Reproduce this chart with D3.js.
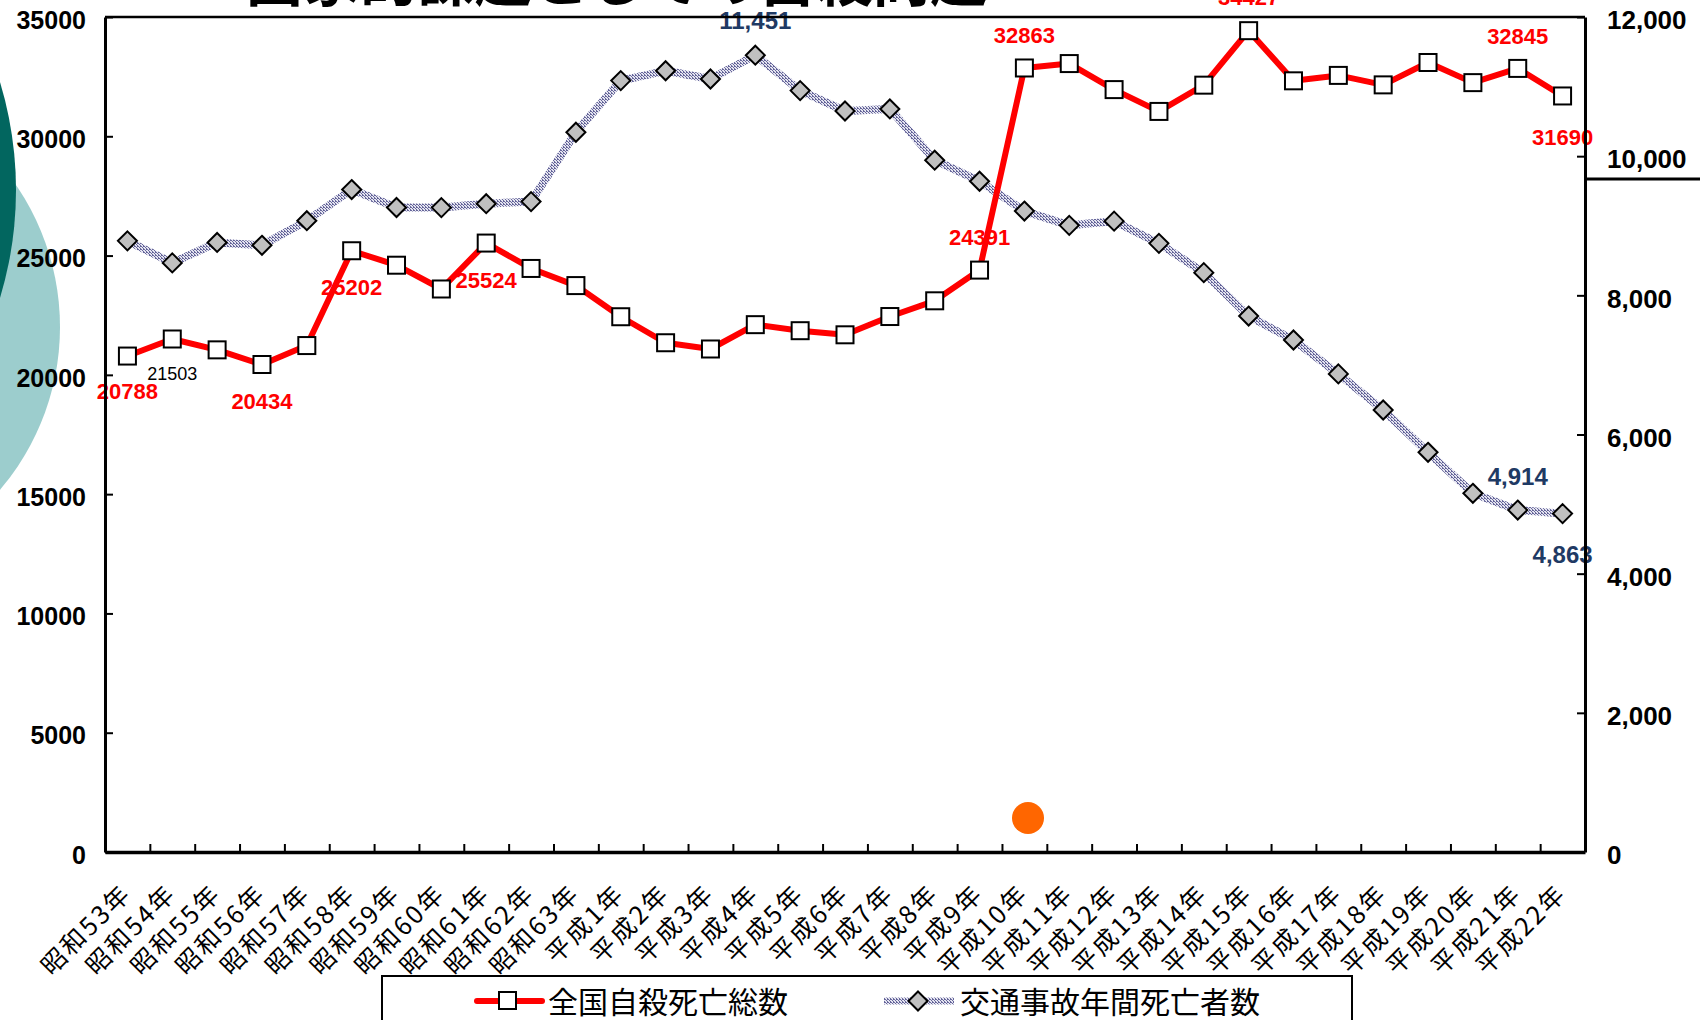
<!DOCTYPE html>
<html><head><meta charset="utf-8">
<script src="https://cdn.jsdelivr.net/npm/d3@7"></script>
<style>
html,body{margin:0;padding:0;background:#fff;overflow:hidden}
svg{display:block}
</style></head><body>
<svg id="chart" width="1700" height="1020"></svg>
<script>
// ---------------- data ----------------
const categories = [
  "昭和53年","昭和54年","昭和55年","昭和56年","昭和57年","昭和58年","昭和59年","昭和60年",
  "昭和61年","昭和62年","昭和63年","平成1年","平成2年","平成3年","平成4年","平成5年","平成6年",
  "平成7年","平成8年","平成9年","平成10年","平成11年","平成12年","平成13年","平成14年","平成15年",
  "平成16年","平成17年","平成18年","平成19年","平成20年","平成21年","平成22年"
];
const suicideTotals = [
  20788,21503,21048,20434,21228,25202,24596,23599,25524,24460,23742,
  22436,21346,21084,22104,21851,21679,22445,23104,24391,32863,33048,
  31957,31042,32143,34427,32325,32552,32155,33093,32249,32845,31690
];
const trafficDeaths = [
  8783,8466,8760,8719,9073,9520,9262,9261,9317,9347,10344,
  11086,11227,11109,11451,10942,10649,10679,9942,9640,9211,9006,
  9066,8747,8326,7702,7358,6871,6352,5744,5155,4914,4863
];
const leftTicks = [0,5000,10000,15000,20000,25000,30000,35000];
const rightTicks = [0,2000,4000,6000,8000,10000,12000];
const seriesNames = ["全国自殺死亡総数","交通事故年間死亡者数"];
const titleText = "国家的課題としての自殺問題";
const suicideLabelCats = ["昭和53年","昭和54年","昭和56年","昭和58年","昭和61年","平成9年","平成10年","平成15年","平成21年","平成22年"];
const trafficLabelCats = ["平成4年","平成21年","平成22年"];

// ---------------- layout / style ----------------
const L = 105, R = 1585, T = 17, B = 852;
const labelDy = { // vertical offset of value labels from their point
  s: {"昭和53年":43,"昭和54年":41,"昭和56年":44,"昭和58年":44,"昭和61年":45,"平成9年":-25,"平成10年":-25,"平成15年":-26,"平成21年":-24,"平成22年":49},
  t: {"平成4年":-26,"平成21年":-25,"平成22年":49}
};
const NUMFONT = "'Liberation Sans', Arial, sans-serif";
const CJKFONT = "'Noto Sans CJK JP', 'Noto Sans CJK SC', sans-serif";

const svg = d3.select("#chart");
const defs = svg.append("defs");
const pat = defs.append("pattern").attr("id","dots").attr("width",3).attr("height",3).attr("patternUnits","userSpaceOnUse");
pat.append("rect").attr("width",3).attr("height",3).attr("fill","#E4E4F0");
[[0,0],[1,1],[2,2],[2,0]].forEach(([a,b])=>pat.append("rect").attr("x",a).attr("y",b).attr("width",1).attr("height",1).attr("fill","#66669A"));

// decorative slide background
svg.append("circle").attr("cx",-191).attr("cy",327).attr("r",251).attr("fill","#9CCDCD");
svg.append("circle").attr("cx",-356).attr("cy",190).attr("r",372).attr("fill","#02665F");
svg.append("text").attr("x",246).attr("y",1).attr("font-family",CJKFONT).attr("font-weight","bold")
  .attr("font-size",57).attr("textLength",741).attr("lengthAdjust","spacing").attr("fill","#000").text(titleText);
svg.append("line").attr("x1",R).attr("x2",1700).attr("y1",179).attr("y2",179).attr("stroke","#000").attr("stroke-width",3);

// scales
const x = d3.scalePoint().domain(categories).range([L,R]).padding(0.5);
const xi = d3.scaleLinear().domain([0,categories.length]).range([L,R]);
const yL = d3.scaleLinear().domain([0,35000]).range([B,T]);
const yR = d3.scaleLinear().domain([0,12000]).range([B,T]);

// traffic series (drawn first, behind)
const lineT = d3.line().x((d,i)=>x(categories[i])).y(d=>yR(d));
svg.append("path").datum(trafficDeaths).attr("d",lineT).attr("fill","none")
  .attr("stroke","url(#dots)").attr("stroke-width",8).attr("stroke-linejoin","round");
const diamond = (cx,cy,r)=>`M${cx},${cy-r}L${cx+r},${cy}L${cx},${cy+r}L${cx-r},${cy}Z`;
svg.append("g").selectAll("path").data(trafficDeaths).join("path")
  .attr("d",(d,i)=>diamond(x(categories[i]),yR(d),9.5))
  .attr("fill","#C0C0C0").attr("stroke","#000").attr("stroke-width",2);

// suicide series
const lineS = d3.line().x((d,i)=>x(categories[i])).y(d=>yL(d));
svg.append("path").datum(suicideTotals).attr("d",lineS).attr("fill","none")
  .attr("stroke","#FF0000").attr("stroke-width",6).attr("stroke-linejoin","round");
svg.append("g").selectAll("rect").data(suicideTotals).join("rect")
  .attr("x",(d,i)=>x(categories[i])-8.5).attr("y",d=>yL(d)-8.5)
  .attr("width",17).attr("height",17).attr("fill","#fff").attr("stroke","#000").attr("stroke-width",2);

// value labels
svg.append("g").selectAll("text").data(suicideLabelCats).join("text")
  .attr("x",c=>x(c)).attr("y",c=>yL(suicideTotals[categories.indexOf(c)])+labelDy.s[c])
  .attr("text-anchor","middle").attr("font-family",NUMFONT)
  .attr("font-weight",c=>c==="昭和54年"?"normal":"bold")
  .attr("font-size",c=>c==="昭和54年"?18:22)
  .attr("fill",c=>c==="昭和54年"?"#000":"#FF0000")
  .text(c=>String(suicideTotals[categories.indexOf(c)]));
svg.append("g").selectAll("text").data(trafficLabelCats).join("text")
  .attr("x",c=>x(c)).attr("y",c=>yR(trafficDeaths[categories.indexOf(c)])+labelDy.t[c])
  .attr("text-anchor","middle").attr("font-family",NUMFONT).attr("font-weight","bold")
  .attr("font-size",24).attr("fill","#1F3A64")
  .text(c=>d3.format(",")(trafficDeaths[categories.indexOf(c)]));

// axes
const styleText = (g,size,weight)=>g.selectAll("text").attr("font-family",NUMFONT).attr("font-size",size)
  .attr("font-weight",weight).attr("fill","#000");
svg.append("g").attr("transform",`translate(${L},0)`)
  .call(d3.axisLeft(yL).tickValues(leftTicks).tickFormat(d3.format("d")).tickSizeInner(-8).tickSizeOuter(0).tickPadding(19))
  .call(g=>{g.select(".domain").attr("stroke-width",3);g.selectAll(".tick line").attr("stroke-width",2);
    styleText(g,25,"bold");g.selectAll("text").attr("dy","0.45em");});
svg.append("g").attr("transform",`translate(${R},0)`)
  .call(d3.axisRight(yR).tickValues(rightTicks).tickFormat(d3.format(",")).tickSizeInner(-8).tickSizeOuter(0).tickPadding(22))
  .call(g=>{g.select(".domain").attr("stroke-width",3);g.selectAll(".tick line").attr("stroke-width",2);
    styleText(g,26,"bold");g.selectAll("text").attr("dy","0.45em");});
svg.append("g").attr("transform",`translate(0,${B})`)
  .call(d3.axisBottom(xi).tickValues(d3.range(1,categories.length)).tickFormat("").tickSizeInner(-8).tickSizeOuter(0))
  .call(g=>{g.select(".domain").attr("stroke-width",3.5);g.selectAll(".tick line").attr("stroke-width",2);});
svg.append("g").attr("transform",`translate(0,${B})`)
  .call(d3.axisBottom(x).tickSize(0).tickPadding(0))
  .call(g=>{g.select(".domain").remove();
    g.selectAll("text").attr("y",0).attr("dy",0).attr("text-anchor","end")
      .attr("transform","translate(5,43) rotate(-45)").attr("letter-spacing","2.5px")
      .attr("font-family",CJKFONT).attr("font-size",25).attr("fill","#000");});
svg.append("line").attr("x1",L).attr("x2",R).attr("y1",yL.range()[1]).attr("y2",yL.range()[1])
  .attr("stroke","#000").attr("stroke-width",2.5);

// decorative orange dot
svg.append("circle").attr("cx",1028).attr("cy",818).attr("r",16).attr("fill","#FF6600");

// legend
const lg = svg.append("g");
lg.append("rect").attr("x",382).attr("y",976).attr("width",970).attr("height",70)
  .attr("fill","#fff").attr("stroke","#000").attr("stroke-width",2);
lg.append("line").attr("x1",477).attr("x2",542).attr("y1",1001).attr("y2",1001)
  .attr("stroke","#FF0000").attr("stroke-width",6).attr("stroke-linecap","round");
lg.append("rect").attr("x",499).attr("y",992).attr("width",17).attr("height",17)
  .attr("fill","#fff").attr("stroke","#000").attr("stroke-width",2);
lg.append("text").attr("x",548).attr("y",1013).attr("font-family",CJKFONT).attr("font-size",30)
  .attr("fill","#000").text(seriesNames[0]);
lg.append("line").attr("x1",884).attr("x2",954).attr("y1",1001).attr("y2",1001)
  .attr("stroke","url(#dots)").attr("stroke-width",7);
lg.append("path").attr("d",diamond(918,1001,9.5)).attr("fill","#C0C0C0").attr("stroke","#000").attr("stroke-width",2);
lg.append("text").attr("x",960).attr("y",1013).attr("font-family",CJKFONT).attr("font-size",30)
  .attr("fill","#000").text(seriesNames[1]);
</script>
</body></html>
